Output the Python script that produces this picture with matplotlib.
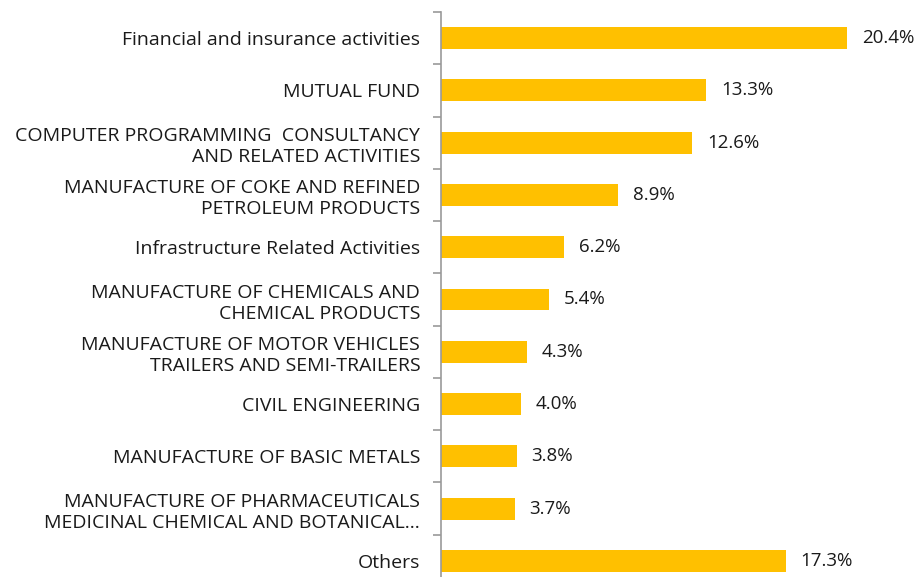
import matplotlib.pyplot as plt

# sectors, top to bottom
sectors = [
    "Financial and insurance activities",
    "MUTUAL FUND",
    "COMPUTER PROGRAMMING  CONSULTANCY\nAND RELATED ACTIVITIES",
    "MANUFACTURE OF COKE AND REFINED\nPETROLEUM PRODUCTS",
    "Infrastructure Related Activities",
    "MANUFACTURE OF CHEMICALS AND\nCHEMICAL PRODUCTS",
    "MANUFACTURE OF MOTOR VEHICLES\nTRAILERS AND SEMI-TRAILERS",
    "CIVIL ENGINEERING",
    "MANUFACTURE OF BASIC METALS",
    "MANUFACTURE OF PHARMACEUTICALS\nMEDICINAL CHEMICAL AND BOTANICAL\u2026",
    "Others",
]
shares = [20.4, 13.3, 12.6, 8.9, 6.2, 5.4, 4.3, 4.0, 3.8, 3.7, 17.3]

plt.rcParams['font.family'] = ['Open Sans', 'DejaVu Sans']

fig = plt.figure(figsize=(9.19, 5.77), dpi=100)
ax = fig.add_axes([441 / 919, -10 / 577, 1 - 441 / 919, 575 / 577])

pos = range(len(sectors))
ax.barh(pos, shares, height=0.42, color='#FFC000')

for y, v in zip(pos, shares):
    ax.text(v + 0.75, y, f"{v:.1f}%", va='center', ha='left', fontsize=13.5, color='#1a1a1a')

ax.set_xlim(0, 24)
ax.set_ylim(len(sectors) - 0.5, -0.5)

ax.set_yticks([i - 0.5 for i in range(len(sectors) + 1)])
ax.set_yticklabels([])
ax.set_yticks(list(pos), minor=True)
ax.set_yticklabels(sectors, minor=True, fontsize=14, color='#1a1a1a', ha='right',
                   linespacing=1.25)
ax.tick_params(axis='y', which='major', length=6, color='#999999', width=1.2)
ax.tick_params(axis='y', which='minor', length=0, pad=15)

ax.set_xticks([])
for s in ['top', 'right', 'bottom']:
    ax.spines[s].set_visible(False)
ax.spines['left'].set_color('#999999')
ax.spines['left'].set_linewidth(1.2)

fig.savefig('out.png', dpi=100)
